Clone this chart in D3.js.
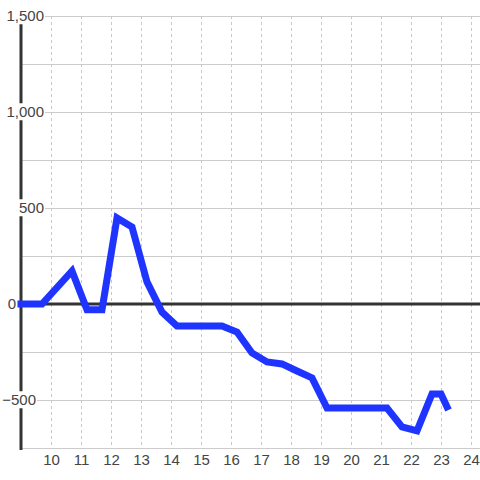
<!DOCTYPE html>
<html><head><meta charset="utf-8">
<script src="https://cdn.jsdelivr.net/npm/d3@7"></script>
<style>html,body{margin:0;padding:0;background:#fff;}svg{display:block;}</style>
</head><body>
<svg id="c" width="480" height="480"></svg>
<script>
const xValues = [9.0, 9.7, 10.7, 11.2, 11.7, 12.2, 12.7, 13.2, 13.7, 14.2, 14.7, 15.2, 15.7, 16.2, 16.7, 17.2, 17.7, 18.2, 18.7, 19.2, 19.7, 20.2, 20.7, 21.2, 21.7, 22.2, 22.7, 23.0, 23.2];
const yValues = [0, 0, 172, -30, -30, 448, 401, 115, -42, -115, -115, -115, -115, -146, -255, -302, -312, -349, -385, -542, -542, -542, -542, -542, -640, -661, -469, -469, -536];
const xTicks = [10, 11, 12, 13, 14, 15, 16, 17, 18, 19, 20, 21, 22, 23, 24];
const yGrid = [1500, 1250, 1000, 750, 500, 250, -250, -500];
const yLabels = [1500, 1000, 500, 0, -500];

const svg = d3.select("#c");
const x = d3.scaleLinear().domain([9, 24.3]).range([21, 480]);
const y = d3.scaleLinear().domain([-750, 1500]).range([448, 16]);
const fmt = d3.format(",");
const FONT = "'Liberation Sans', Arial, sans-serif";

// vertical dashed grid
svg.append("g").selectAll("line").data(xTicks).join("line")
  .attr("x1", d => Math.round(x(d)) + 0.5).attr("x2", d => Math.round(x(d)) + 0.5)
  .attr("y1", 16).attr("y2", 448)
  .attr("stroke", "#c8c8c8").attr("stroke-width", 1).attr("stroke-dasharray", "3,3");

// horizontal grid
svg.append("g").selectAll("line").data(yGrid).join("line")
  .attr("x1", 21).attr("x2", 480)
  .attr("y1", d => Math.round(y(d)) + 0.5).attr("y2", d => Math.round(y(d)) + 0.5)
  .attr("stroke", "#cccccc").attr("stroke-width", 1);

// bottom axis line
svg.append("line").attr("x1", 21).attr("x2", 480).attr("y1", 448.5).attr("y2", 448.5)
  .attr("stroke", "#cccccc").attr("stroke-width", 1);

// left axis
svg.append("line").attr("x1", 21).attr("x2", 21).attr("y1", 16).attr("y2", 450)
  .attr("stroke", "#333").attr("stroke-width", 3);

// zero line
svg.append("line").attr("x1", 21).attr("x2", 480).attr("y1", y(0)).attr("y2", y(0))
  .attr("stroke", "#333").attr("stroke-width", 3);

// x tick labels
const xAxis = d3.axisBottom(x).tickValues(xTicks).tickSize(0).tickPadding(0).tickFormat(d3.format("d"));
const gx = svg.append("g").attr("transform", "translate(0,454)").call(xAxis);
gx.select(".domain").remove();
gx.selectAll("text").attr("font-family", FONT)
  .attr("font-size", 15).attr("fill", "#444").attr("dy", "0.71em");

// y labels with white backgrounds
const labelEnd = d => d > 0 ? 44 : (d === 0 ? 16 : 36);
const gy = svg.append("g").selectAll("g").data(yLabels).join("g")
  .attr("transform", d => `translate(${labelEnd(d)},${y(d)})`);
gy.append("text").attr("text-anchor", "end").attr("dy", "0.35em")
  .attr("font-family", FONT)
  .attr("font-size", 15).attr("fill", "#444").text(d => fmt(d));
gy.each(function() {
  const g = d3.select(this);
  const b = g.select("text").node().getBBox();
  g.insert("rect", "text").attr("x", b.x - 1).attr("y", b.y).attr("width", b.width + 2).attr("height", b.height)
    .attr("fill", "#fff");
});

// data line
const line = d3.line().x((d, i) => x(xValues[i])).y(d => y(d));
svg.append("path").datum(yValues).attr("d", line)
  .attr("fill", "none").attr("stroke", "#1f35ff").attr("stroke-width", 7)
  .attr("stroke-linejoin", "miter").attr("stroke-linecap", "square");
</script>
</body></html>
